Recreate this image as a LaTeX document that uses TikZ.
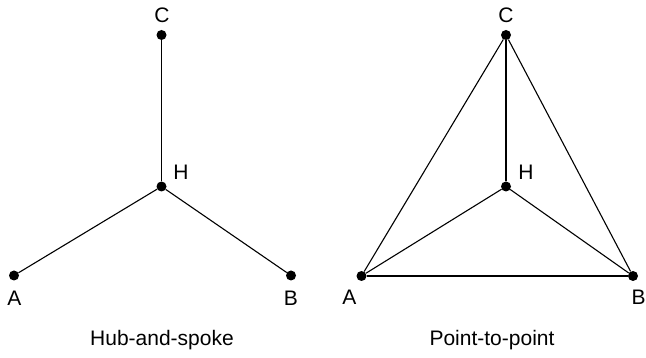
\documentclass[tikz,border=0pt]{standalone}
\usepackage{fontspec}
\setmainfont{Liberation Sans}
\begin{document}
\begin{tikzpicture}[x=1pt,y=-1pt,
  dot/.style={circle,fill=black,inner sep=0pt,minimum size=10pt},
  lbl/.style={font=\fontsize{21}{25}\selectfont,inner sep=0pt},
  captext/.style={font=\fontsize{21}{25}\selectfont,inner sep=0pt},
  edge/.style={line width=1.1pt,black}]
\useasboundingbox (0,0) rectangle (646,358);
% Hub-and-spoke
\node[dot] (lC) at (161.5,35) {};
\node[dot] (lH) at (161.5,186.5) {};
\node[dot] (lA) at (14,275.5) {};
\node[dot] (lB) at (291,275.5) {};
\draw[edge] (lH) -- (lC);
\draw[edge] (lH) -- (lA);
\draw[edge] (lH) -- (lB);
\node[lbl] (lCl) at (162,15) {C};
\node[lbl] (lHl) at (181,172) {H};
\node[lbl] (lAl) at (14.5,298) {A};
\node[lbl] (lBl) at (291,298) {B};
\node[captext] (lcap) at (162,340) {Hub-and-spoke};
% Point-to-point
\node[dot] (rC) at (506,35) {};
\node[dot] (rH) at (506,186.5) {};
\node[dot] (rA) at (361.5,276) {};
\node[dot] (rB) at (633,276) {};
\draw[edge] (rH) -- (rC);
\draw[edge] (rH) -- (rA);
\draw[edge] (rH) -- (rB);
\draw[edge] (rA) -- (rB);
\draw[edge] (rA) -- (rC);
\draw[edge] (rB) -- (rC);
\node[lbl] (rCl) at (506,15) {C};
\node[lbl] (rHl) at (526,172) {H};
\node[lbl] (rAl) at (349.5,297.5) {A};
\node[lbl] (rBl) at (638.5,297.5) {B};
\node[captext] (rcap) at (492,340) {Point-to-point};
\end{tikzpicture}
\end{document}
